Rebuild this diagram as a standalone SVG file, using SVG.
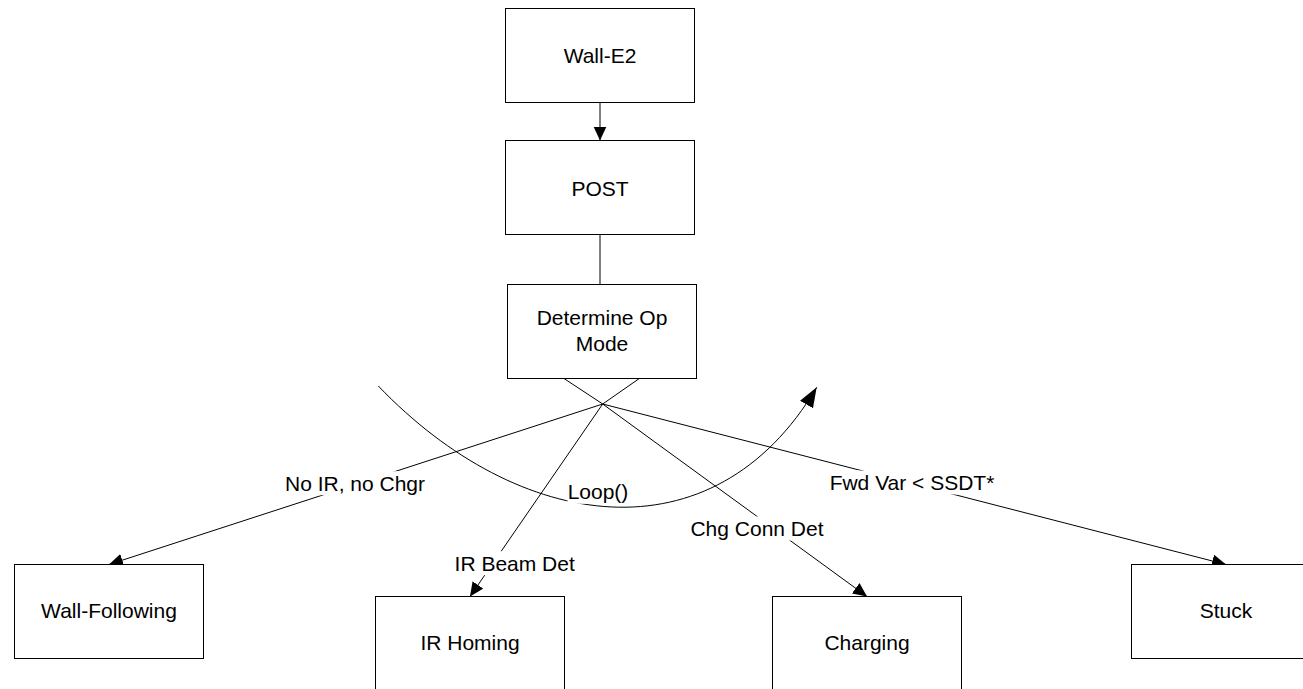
<svg xmlns="http://www.w3.org/2000/svg" width="1303" height="689" viewBox="0 0 1303 689">
<style>
.box{fill:#fff;stroke:#000;stroke-width:1}
.lbl{font-family:"Liberation Sans",Arial,sans-serif;font-size:21px;fill:#000;text-anchor:middle}
.ln{fill:none;stroke:#000;stroke-width:1}
.arr{marker-end:url(#ah)}
.bg{fill:#fff;stroke:none}
</style>
<defs>
<marker id="ah" markerUnits="userSpaceOnUse" markerWidth="16" markerHeight="14" refX="14" refY="6.5" orient="auto">
<path d="M0,0 L14,6.5 L0,13 Z" fill="#000"/>
</marker>
<marker id="ah2" markerUnits="userSpaceOnUse" markerWidth="21" markerHeight="16" refX="20" refY="7.5" orient="auto">
<path d="M0,0 L20,7.5 L0,15 Z" fill="#000"/>
</marker>
</defs>
<rect width="1303" height="689" fill="#fff"/>
<g id="connectors">
<line class="ln arr" x1="600" y1="102.5" x2="600" y2="140.5"/>
<line class="ln" x1="600" y1="234.5" x2="600" y2="284.5"/>
<line class="ln" x1="564" y1="378.5" x2="602.7" y2="404"/>
<line class="ln" x1="639.3" y1="378.5" x2="602.7" y2="404"/>
<line class="ln arr" x1="602.7" y1="404" x2="109" y2="564.5"/>
<line class="ln arr" x1="602.7" y1="404" x2="470" y2="596.5"/>
<line class="ln arr" x1="602.7" y1="404" x2="867" y2="596.5"/>
<line class="ln arr" x1="602.7" y1="404" x2="1226" y2="564.5"/>
<path class="ln" marker-end="url(#ah2)" d="M378.3,386 C518.4,532.2 713.2,561.9 816.7,387.3"/>
<g id="edge-labels">
<rect class="bg" x="285" y="471.2" width="140" height="24"/>
<text class="lbl" x="355" y="490.7">No IR, no Chgr</text>
<rect class="bg" x="454.7" y="551.2" width="120" height="24"/>
<text class="lbl" x="514.7" y="570.7">IR Beam Det</text>
<rect class="bg" x="567.5" y="479.8" width="61" height="24"/>
<text class="lbl" x="598" y="499.3">Loop()</text>
<rect class="bg" x="690.5" y="516.5" width="133" height="24"/>
<text class="lbl" x="757" y="536">Chg Conn Det</text>
<rect class="bg" x="829" y="470.5" width="166" height="24"/>
<text class="lbl" x="912" y="490">Fwd Var &lt; SSDT*</text>
</g>
</g>
<g id="wall-e2">
<rect class="box" x="505.5" y="8.5" width="189" height="94"/>
<text class="lbl" x="600" y="62.5">Wall-E2</text>
</g>
<g id="post">
<rect class="box" x="505.5" y="140.5" width="189" height="94"/>
<text class="lbl" x="600" y="195.5">POST</text>
</g>
<g id="determine-op-mode">
<rect class="box" x="507.5" y="284.5" width="189" height="94"/>
<text class="lbl" x="602" y="325">Determine Op</text>
<text class="lbl" x="602" y="350.5">Mode</text>
</g>
<g id="wall-following">
<rect class="box" x="14.5" y="564.5" width="189" height="94"/>
<text class="lbl" x="109" y="618.3">Wall-Following</text>
</g>
<g id="ir-homing">
<rect class="box" x="375.5" y="596.5" width="189" height="94"/>
<text class="lbl" x="470" y="650">IR Homing</text>
</g>
<g id="charging">
<rect class="box" x="772.5" y="596.5" width="189" height="94"/>
<text class="lbl" x="867" y="650">Charging</text>
</g>
<g id="stuck">
<rect class="box" x="1131.5" y="564.5" width="189" height="94"/>
<text class="lbl" x="1226" y="618.3">Stuck</text>
</g>
</svg>
